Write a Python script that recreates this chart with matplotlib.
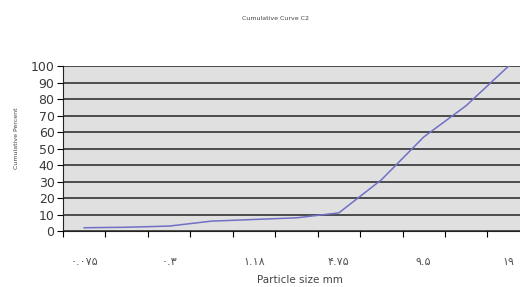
#!/usr/bin/env python
# -*-Mode: python;-*-

import sys

import numpy as np
import matplotlib
matplotlib.use('Agg')
import matplotlib.pyplot as plt

#****************************************************************************
# data
#****************************************************************************

# sieve sizes (category axis), Persian digits as in the original
sizeL = ['۰.۰۷۵', '۰.۱۵', '۰.۳', '۰.۶', '۱.۱۸', '۲.۳۶',
         '۴.۷۵', '۶.۳', '۹.۵', '۱۲.۵', '۱۹']

# cumulative percent passing
percentL = [2, 2.3, 3, 6, 7, 8, 11, 31, 57, 76, 100]

yticksL = [0, 10, 20, 30, 40, 50, 60, 70, 80, 90, 100]

#****************************************************************************

def main():
    plt.rcParams['font.family'] = ['DejaVu Sans']

    fig = plt.figure(figsize=(5.2, 2.87), dpi=100)
    ax = fig.add_axes([0.121, 0.195, 0.898, 0.575])

    ax.set_facecolor('#e0e0e0')

    xpos = np.arange(len(sizeL))
    ax.plot(xpos, percentL, color='#7070c6', lw=1.1, zorder=3)

    #-------------------------------------------------------
    # axes
    #-------------------------------------------------------
    ax.set_xlim(-0.5, len(sizeL) - 0.5)
    ax.set_ylim(0, 100)

    ax.set_yticks(yticksL)
    ax.set_yticklabels([str(v) for v in yticksL], fontsize=9, color='#3a3a3a')
    ax.tick_params(axis='y', direction='out', length=4, width=0.8, pad=2)

    # category boundaries get the tick marks, every other center a label
    ax.set_xticks(np.arange(len(sizeL) + 1) - 0.5)
    ax.set_xticklabels([])
    ax.tick_params(axis='x', which='major', direction='out', length=4, width=0.8)
    ax.set_xticks(xpos[::2], minor=True)
    ax.set_xticklabels(sizeL[::2], minor=True, fontsize=8, color='#555555')
    ax.tick_params(axis='x', which='minor', length=0, pad=19)

    ax.grid(axis='y', color='#333333', lw=1.2)
    ax.set_axisbelow(False)

    for side in ['top', 'right']:
        ax.spines[side].set_visible(False)
    ax.spines['left'].set_color('#222222')
    ax.spines['bottom'].set_color('#222222')

    #-------------------------------------------------------
    # text
    #-------------------------------------------------------
    fig.text(0.53, 0.937, 'Cumulative Curve C2', ha='center', va='center',
             fontsize=4.5, color='#444444')
    fig.text(0.031, 0.52, 'Cumulative Percent', ha='center', va='center',
             rotation=90, fontsize=4.5, color='#444444')
    fig.text(0.577, 0.025, 'Particle size mm', ha='center', va='center',
             fontsize=7.5, color='#444444')

    fig.savefig('out.png', dpi=100, facecolor='white')


#****************************************************************************

if (__name__ == "__main__"):
    sys.exit(main())
